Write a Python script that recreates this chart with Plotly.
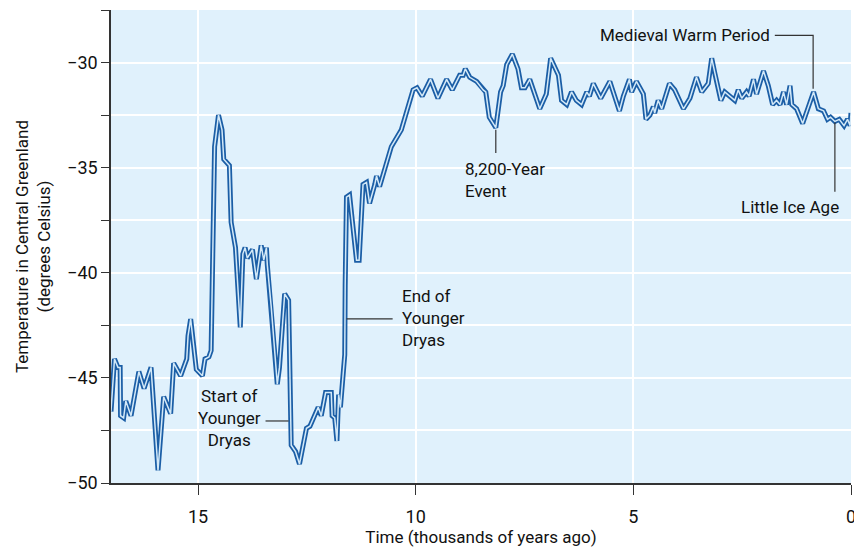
import plotly.graph_objects as go

# Time in thousands of years ago
years_ago = [17.0, 16.92, 16.84, 16.79, 16.78, 16.71, 16.66, 16.54, 16.36, 16.24, 16.08, 15.92, 15.79,
             15.63, 15.56, 15.40, 15.26, 15.23, 15.17, 15.04, 14.90, 14.84, 14.75, 14.70, 14.62, 14.53,
             14.45, 14.41, 14.28, 14.24, 14.14, 14.03, 13.97, 13.92, 13.87, 13.75, 13.66, 13.55, 13.49,
             13.43, 13.41, 13.32, 13.18, 13.13, 13.01, 12.92, 12.86, 12.76, 12.67, 12.51, 12.43, 12.24,
             12.17, 12.07, 11.99, 11.94, 11.92, 11.86, 11.81, 11.77, 11.73, 11.68, 11.63, 11.62, 11.59,
             11.52, 11.44, 11.36, 11.30, 11.21, 11.13, 11.06, 10.94, 10.90, 10.83, 10.56, 10.33, 10.06,
             9.97, 9.85, 9.66, 9.49, 9.29, 9.16, 8.99, 8.91, 8.86, 8.76, 8.60, 8.45, 8.39, 8.31, 8.16,
             8.05, 7.99, 7.91, 7.78, 7.65, 7.57, 7.49, 7.38, 7.15, 7.00, 6.90, 6.72, 6.65, 6.53, 6.42,
             6.31, 6.19, 6.07, 6.01, 5.92, 5.75, 5.54, 5.32, 5.23, 5.09, 5.04, 4.93, 4.77, 4.71, 4.62,
             4.54, 4.51, 4.43, 4.35, 4.17, 4.05, 3.85, 3.70, 3.55, 3.43, 3.28, 3.20, 3.13, 2.99, 2.90,
             2.78, 2.67, 2.59, 2.51, 2.40, 2.34, 2.24, 2.17, 2.01, 1.90, 1.80, 1.71, 1.63, 1.55, 1.48,
             1.40, 1.36, 1.25, 1.11, 1.00, 0.94, 0.86, 0.75, 0.63, 0.54, 0.47, 0.37, 0.27, 0.16, 0.08,
             0.02, 0.0]

temperature = [-46.6, -44.1, -44.5, -44.5, -46.8, -46.9, -46.1, -46.8, -44.7, -45.5, -44.5, -49.4, -45.9,
               -46.7, -44.3, -44.9, -44.1, -43.0, -42.2, -44.6, -44.9, -44.1, -44.0, -43.7, -34.0, -32.5,
               -33.2, -34.6, -34.9, -37.6, -38.8, -42.6, -39.1, -38.8, -39.3, -38.9, -40.3, -38.7, -39.4,
               -38.8, -39.6, -41.6, -45.3, -44.5, -41.0, -41.3, -48.2, -48.5, -49.1, -47.4, -47.3, -46.4,
               -46.8, -45.7, -45.7, -45.7, -46.8, -46.9, -48.0, -45.8, -46.4, -45.0, -43.9, -40.6, -36.4,
               -36.3, -37.8, -39.4, -39.4, -35.8, -35.7, -36.7, -35.8, -35.4, -35.9, -34.0, -33.2, -31.3,
               -31.2, -31.6, -30.8, -31.7, -30.8, -31.3, -30.6, -30.6, -30.3, -30.7, -30.9, -31.3, -31.4,
               -32.6, -33.1, -31.4, -31.1, -30.1, -29.6, -30.3, -31.2, -31.2, -30.8, -32.2, -31.5, -29.8,
               -30.6, -31.8, -32.0, -31.4, -31.8, -32.0, -31.4, -31.6, -31.0, -31.7, -30.9, -32.3, -31.6,
               -30.8, -31.4, -30.9, -31.5, -32.7, -32.5, -32.1, -32.4, -31.8, -32.2, -31.0, -31.3, -32.2,
               -31.7, -30.7, -31.4, -31.0, -29.8, -30.5, -31.8, -31.4, -31.6, -31.8, -31.3, -31.7, -31.4,
               -31.6, -30.8, -31.5, -30.4, -31.1, -32.0, -31.8, -32.0, -31.4, -32.0, -31.1, -32.0, -32.2,
               -32.9, -32.2, -31.9, -31.4, -32.2, -32.3, -32.7, -32.6, -32.8, -32.7, -33.0, -32.7, -33.0,
               -32.4]

x_ticks = [15, 10, 5, 0]
x_tick_labels = ["15", "10", "5", "0"]
y_ticks = [-50, -45, -40, -35, -30]
y_tick_labels = ["\u221250", "\u221245", "\u221240", "\u221235", "\u221230"]

FONT = "Roboto, Noto Sans, sans-serif"
DARK = "#1b5ea6"
LIGHT = "#d3e9f8"
BG = "#e0f1fc"

fig = go.Figure()
fig.add_trace(go.Scatter(x=years_ago, y=temperature, mode="lines",
                         line=dict(color=DARK, width=5), hoverinfo="skip", showlegend=False))
fig.add_trace(go.Scatter(x=years_ago, y=temperature, mode="lines",
                         line=dict(color=LIGHT, width=1.5), showlegend=False))

ann_font = dict(family=FONT, size=17, color="#111111")
line_style = dict(color="#333333", width=1.2)

# connectors
fig.add_shape(type="line", x0=13.45, x1=12.92, y0=-47.05, y1=-47.05, line=line_style)
fig.add_shape(type="line", x0=11.59, x1=10.53, y0=-42.19, y1=-42.19, line=line_style)
fig.add_shape(type="line", x0=8.16, x1=8.16, y0=-33.2, y1=-34.3, line=line_style)
fig.add_shape(type="path", path="M 1.75,-28.71 L 0.87,-28.71 L 0.87,-31.25", line=line_style)
fig.add_shape(type="line", x0=0.37, x1=0.37, y0=-32.85, y1=-36.14, line=line_style)

fig.add_annotation(x=14.28, y=-46.9, text="Start of<br>Younger<br>Dryas", showarrow=False,
                   xanchor="center", yanchor="middle", align="center", font=ann_font)
fig.add_annotation(x=10.37, y=-42.14, text="End of<br>Younger<br>Dryas", showarrow=False,
                   xanchor="left", yanchor="middle", align="left", font=ann_font)
fig.add_annotation(x=8.92, y=-35.6, text="8,200-Year<br>Event", showarrow=False,
                   xanchor="left", yanchor="middle", align="left", font=ann_font)
fig.add_annotation(x=1.81, y=-28.67, text="Medieval Warm Period", showarrow=False,
                   xanchor="right", yanchor="middle", align="right", font=ann_font)
fig.add_annotation(x=1.40, y=-36.86, text="Little Ice Age", showarrow=False,
                   xanchor="center", yanchor="middle", align="center", font=ann_font)

fig.update_layout(
    width=854, height=548,
    margin=dict(l=111, r=3, t=10, b=65),
    paper_bgcolor="white", plot_bgcolor=BG,
    font=dict(family=FONT, size=17, color="#111111"),
    xaxis=dict(range=[17, 0], tickvals=x_ticks, ticktext=x_tick_labels,
               ticks="outside", ticklen=10, tickcolor="#333333", tickwidth=1.2,
               showgrid=True, gridcolor="white", gridwidth=1.5,
               showline=True, linecolor="#333333", linewidth=1.5,
               zeroline=False, tickfont=dict(size=18), automargin=False,
               ticklabeloverflow="allow", ticklabelstandoff=7,
               title=dict(text="Time (thousands of years ago)", font=dict(size=17), standoff=5)),
    yaxis=dict(range=[-50, -27.5], tickvals=y_ticks, ticktext=y_tick_labels,
               ticks="outside", ticklen=8, tickcolor="#333333", tickwidth=1.2,
               showgrid=True, gridcolor="white", gridwidth=1.5,
               minor=dict(dtick=2.5, tick0=-50, ticks="outside", ticklen=8, tickcolor="#333333",
                          showgrid=True, gridcolor="white", gridwidth=1.5),
               showline=True, linecolor="#333333", linewidth=1.5,
               zeroline=False, tickfont=dict(size=18), automargin=False,
               title=dict(text="Temperature in Central Greenland<br>(degrees Celsius)",
                          font=dict(size=17), standoff=12)),
)

fig.write_html("out.html", config={"displayModeBar": False},
               post_script="document.body.style.margin='0';document.body.style.overflow='hidden';")
